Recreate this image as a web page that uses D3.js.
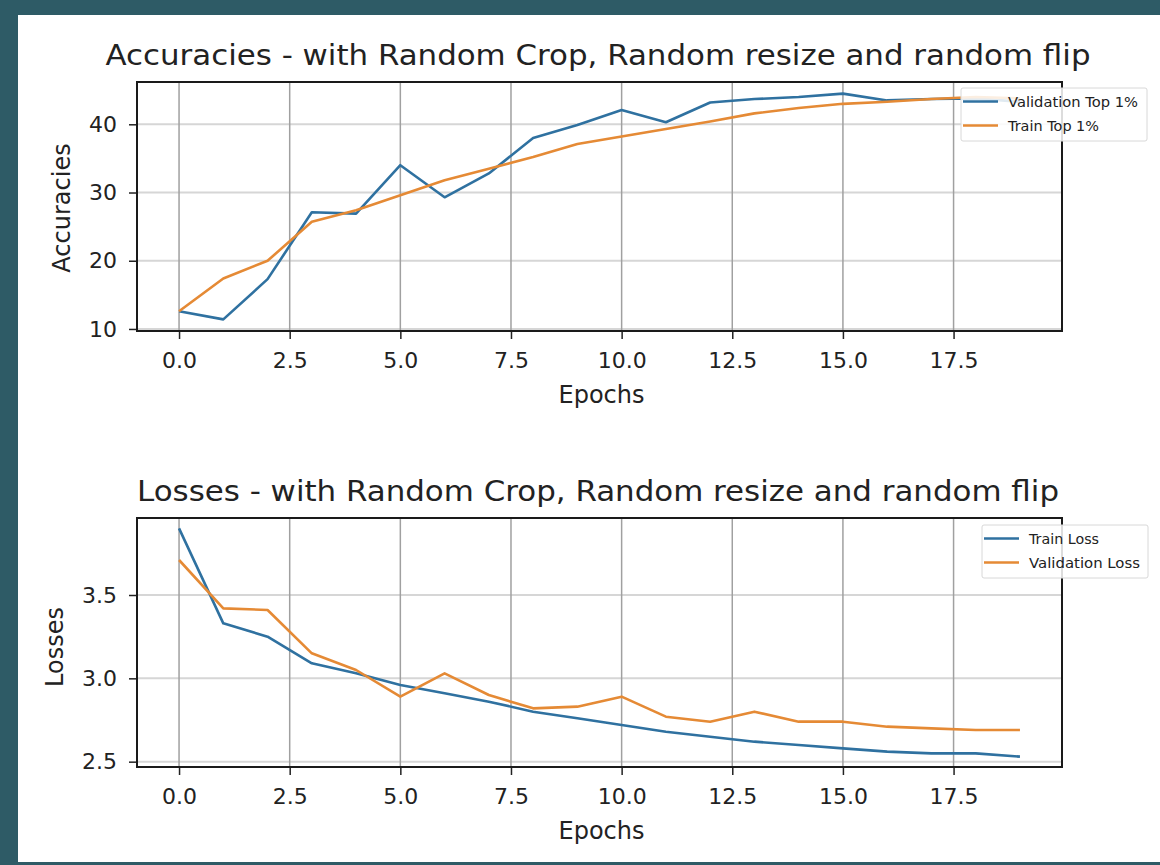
<!DOCTYPE html>
<html>
<head>
<meta charset="utf-8">
<script src="https://cdn.jsdelivr.net/npm/d3@7"></script>
<style>
  body { margin: 0; background: #2e5b66; }
  svg { display: block; }
  text { font-family: "DejaVu Sans", sans-serif; fill: #222; }
</style>
</head>
<body>
<svg id="chart" width="1160" height="865"></svg>
<script>
// epochs 0..19
var epochs = [0, 1, 2, 3, 4, 5, 6, 7, 8, 9, 10, 11, 12, 13, 14, 15, 16, 17, 18, 19];

var valTop1 = [12.6, 11.4, 17.3, 27.1, 26.9, 34.0, 29.3, 32.8, 38.0, 39.9, 42.1, 40.3, 43.2, 43.7, 44.0, 44.5, 43.5, 43.7, 43.8, 43.3];
var trainTop1 = [12.6, 17.4, 20.0, 25.7, 27.4, 29.6, 31.8, 33.5, 35.2, 37.1, 38.2, 39.3, 40.4, 41.6, 42.4, 43.0, 43.3, 43.7, 44.0, 43.8];

var trainLoss = [3.90, 3.33, 3.25, 3.09, 3.03, 2.96, 2.91, 2.86, 2.80, 2.76, 2.72, 2.68, 2.65, 2.62, 2.60, 2.58, 2.56, 2.55, 2.55, 2.53];
var valLoss = [3.71, 3.42, 3.41, 3.15, 3.05, 2.89, 3.03, 2.90, 2.82, 2.83, 2.89, 2.77, 2.74, 2.80, 2.74, 2.74, 2.71, 2.70, 2.69, 2.69];

var xTicks = [0, 2.5, 5, 7.5, 10, 12.5, 15, 17.5];
var accTicks = [10, 20, 30, 40];
var lossTicks = [2.5, 3.0, 3.5];

var blue = "#2f71a0",
    orange = "#e58a35";

var svg = d3.select("#chart");

// white card
svg.append("rect")
    .attr("x", 18).attr("y", 15)
    .attr("width", 1142).attr("height", 847)
    .attr("fill", "#ffffff");

function drawPanel(opt) {
    var left = 137, right = 1062;
    var x = d3.scaleLinear().domain([-0.95, 19.95]).range([left, right]);
    var y = d3.scaleLinear().domain(opt.yDomain).range([opt.bottom, opt.top]);

    var g = svg.append("g");

    // grid
    g.selectAll(".hgrid")
        .data(opt.yTicks)
        .enter().append("line")
        .attr("x1", left).attr("x2", right)
        .attr("y1", function (d) { return y(d); })
        .attr("y2", function (d) { return y(d); })
        .attr("stroke", "#d6d6d6")
        .attr("stroke-width", 2);

    g.selectAll(".vgrid")
        .data(xTicks)
        .enter().append("line")
        .attr("y1", opt.top).attr("y2", opt.bottom)
        .attr("x1", function (d) { return x(d); })
        .attr("x2", function (d) { return x(d); })
        .attr("stroke", "#a0a0a0")
        .attr("stroke-width", 1.5);

    // series
    var line = d3.line()
        .x(function (d) { return x(d[0]); })
        .y(function (d) { return y(d[1]); });

    opt.series.forEach(function (s) {
        g.append("path")
            .datum(epochs.map(function (e, i) { return [e, s.values[i]]; }))
            .attr("fill", "none")
            .attr("stroke", s.color)
            .attr("stroke-width", 2.6)
            .attr("stroke-linejoin", "round")
            .attr("d", line);
    });

    // axes
    var xAxis = g.append("g")
        .attr("transform", "translate(0," + opt.bottom + ")")
        .call(d3.axisBottom(x).tickValues(xTicks).tickFormat(d3.format(".1f")).tickSize(8).tickPadding(13));
    var yAxis = g.append("g")
        .attr("transform", "translate(" + left + ",0)")
        .call(d3.axisLeft(y).tickValues(opt.yTicks).tickFormat(opt.yFormat).tickSize(8).tickPadding(12));

    [xAxis, yAxis].forEach(function (a) {
        a.select(".domain").remove();
        a.selectAll("line").attr("stroke", "#222").attr("stroke-width", 1.5);
        a.selectAll("text")
            .style("font-family", "DejaVu Sans, sans-serif")
            .style("font-size", "22px")
            .attr("fill", "#222");
    });

    // frame
    g.append("rect")
        .attr("x", left).attr("y", opt.top)
        .attr("width", right - left).attr("height", opt.bottom - opt.top)
        .attr("fill", "none")
        .attr("stroke", "#1a1a1a")
        .attr("stroke-width", 2);

    // title
    g.append("text")
        .attr("x", opt.titleX)
        .attr("y", opt.top - 17)
        .attr("text-anchor", "middle")
        .attr("textLength", opt.titleWidth)
        .attr("lengthAdjust", "spacingAndGlyphs")
        .style("font-size", "28px")
        .text(opt.title);

    g.append("text")
        .attr("x", (left + right) / 2 + 2)
        .attr("y", opt.bottom + 72)
        .attr("text-anchor", "middle")
        .style("font-size", "24px")
        .text("Epochs");

    g.append("text")
        .attr("transform", "translate(" + opt.yLabelX + "," + opt.yLabelY + ") rotate(-90)")
        .attr("text-anchor", "middle")
        .style("font-size", "24px")
        .text(opt.yLabel);

    // legend
    var lg = g.append("g").attr("transform", "translate(" + opt.legend.x + "," + opt.legend.y + ")");
    lg.append("rect")
        .attr("width", opt.legend.w).attr("height", 53)
        .attr("rx", 2)
        .attr("fill", "#ffffff").attr("fill-opacity", 0.85)
        .attr("stroke", "#d8d8d8");
    opt.series.forEach(function (s, i) {
        var ly = 13.5 + i * 24;
        lg.append("line")
            .attr("x1", 2).attr("x2", 37)
            .attr("y1", ly).attr("y2", ly)
            .attr("stroke", s.color).attr("stroke-width", 2.6);
        lg.append("text")
            .attr("x", 47).attr("y", ly + 5)
            .attr("textLength", s.labelWidth)
            .attr("lengthAdjust", "spacingAndGlyphs")
            .style("font-size", "14px")
            .attr("fill", "#444")
            .text(s.name);
    });
}

drawPanel({
    top: 82, bottom: 331,
    yDomain: [9.7, 46.2],
    yTicks: accTicks,
    yFormat: d3.format("d"),
    title: "Accuracies - with Random Crop, Random resize and random flip",
    titleX: 598, titleWidth: 985,
    yLabel: "Accuracies", yLabelX: 70, yLabelY: 208,
    legend: { x: 961, y: 88, w: 186 },
    series: [
        { name: "Validation Top 1%", values: valTop1, color: blue, labelWidth: 130 },
        { name: "Train Top 1%", values: trainTop1, color: orange, labelWidth: 91 }
    ]
});

drawPanel({
    top: 518, bottom: 767,
    yDomain: [2.468, 3.962],
    yTicks: lossTicks,
    yFormat: d3.format(".1f"),
    title: "Losses - with Random Crop, Random resize and random flip",
    titleX: 598, titleWidth: 922,
    yLabel: "Losses", yLabelX: 63, yLabelY: 647,
    legend: { x: 982, y: 525, w: 166 },
    series: [
        { name: "Train Loss", values: trainLoss, color: blue, labelWidth: 70 },
        { name: "Validation Loss", values: valLoss, color: orange, labelWidth: 111 }
    ]
});
</script>
</body>
</html>
